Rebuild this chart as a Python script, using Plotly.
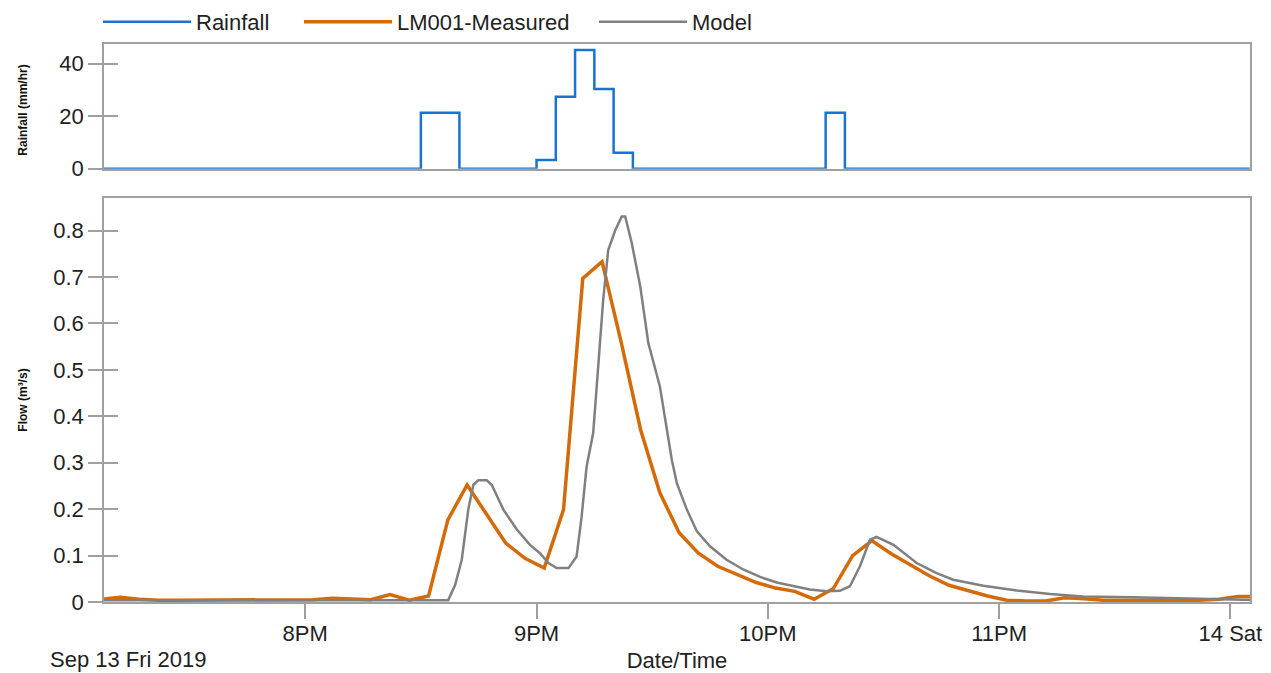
import pandas as pd
import plotly.graph_objects as go

# ---------------- data ----------------
# Rainfall (mm/hr), 5-minute intervals starting 2019-09-13 19:05
rain_start = "2019-09-13 19:05"
rain_values = [
    0, 0, 0, 0, 0, 0, 0, 0, 0, 0, 0, 0, 0, 0, 0, 0, 0,      # 19:05 - 20:25
    21.3, 21.3,                                              # 20:30 - 20:35
    0, 0, 0, 0,                                              # 20:40 - 20:55
    3.3, 27.4, 45.2, 30.4, 6.1,                              # 21:00 - 21:20
    0, 0, 0, 0, 0, 0, 0, 0, 0, 0,                            # 21:25 - 22:10
    21.3,                                                    # 22:15
    0, 0, 0, 0, 0, 0, 0, 0, 0, 0, 0, 0, 0, 0, 0, 0, 0, 0, 0, 0, 0, 0,  # 22:20 - 00:05
]

# LM001-Measured flow (m3/s), 5-minute intervals starting 2019-09-13 19:07
meas_start = "2019-09-13 19:07"
meas_values = [
    0.006, 0.010, 0.006, 0.004, 0.004, 0.004, 0.005, 0.005, 0.005, 0.005,
    0.004, 0.005, 0.008, 0.006, 0.005, 0.016, 0.004, 0.013, 0.177, 0.252,
    0.190, 0.127, 0.094, 0.073, 0.199, 0.697, 0.733, 0.558, 0.371, 0.235,
    0.149, 0.105, 0.077, 0.059, 0.042, 0.030, 0.023, 0.006, 0.029, 0.100,
    0.132, 0.104, 0.079, 0.056, 0.036, 0.025, 0.013, 0.004, 0.002, 0.002,
    0.009, 0.007, 0.004, 0.004, 0.004, 0.004, 0.004, 0.004, 0.006, 0.012,
    0.012,
]

# Model flow (m3/s): minutes after 2019-09-13 19:00 and values
model_base = "2019-09-13 19:00"
model_minutes = [
    0, 97.1, 98.9, 100.6, 102.3, 103.6, 104.9, 107.1, 108.4, 111.4,
    114.9, 118.3, 120.9, 123.1, 125.2, 128.3, 130.4, 131.7, 133.0, 134.7,
    136.0, 137.3, 138.6, 140.4, 142.1, 143.0, 144.7, 146.9, 149.0, 152.0,
    155.1, 156.4, 159.0, 161.6, 165.0, 169.3, 173.6, 178.0, 182.3, 186.6,
    190.9, 195.3, 198.7, 201.3, 203.9, 206.5, 208.2, 212.6, 218.6, 223.8,
    228.1, 235.9, 244.6, 253.2, 261.8, 274.8, 287.8, 303.3, 310.0,
]
model_values = [
    0.004, 0.004, 0.037, 0.091, 0.199, 0.252, 0.262, 0.262, 0.252, 0.199,
    0.156, 0.123, 0.105, 0.084, 0.073, 0.073, 0.098, 0.184, 0.292, 0.364,
    0.507, 0.651, 0.758, 0.800, 0.830, 0.830, 0.773, 0.680, 0.558, 0.464,
    0.306, 0.256, 0.199, 0.152, 0.120, 0.091, 0.070, 0.054, 0.042, 0.034,
    0.027, 0.023, 0.024, 0.034, 0.077, 0.134, 0.140, 0.123, 0.084, 0.062,
    0.048, 0.035, 0.025, 0.017, 0.012, 0.010, 0.007, 0.005, 0.005,
]

x_tick_vals = ["2019-09-13 20:00", "2019-09-13 21:00", "2019-09-13 22:00",
               "2019-09-13 23:00", "2019-09-14 00:00"]
x_tick_text = ["8PM", "9PM", "10PM", "11PM", "14 Sat"]
x_range = ["2019-09-13 19:07:48", "2019-09-14 00:05:05"]

rain_ticks = [0, 20, 40]
flow_ticks = [0, 0.1, 0.2, 0.3, 0.4, 0.5, 0.6, 0.7, 0.8]
rain_range = [0, 47.5]
flow_range = [0, 0.87]

# ---------------- build ----------------
rain_t = pd.date_range(rain_start, periods=len(rain_values), freq="5min")
meas_t = pd.date_range(meas_start, periods=len(meas_values), freq="5min")
model_t = pd.Timestamp(model_base) + pd.to_timedelta(model_minutes, unit="min")

FONT = "Liberation Sans, Arial, sans-serif"
FS = 22
TXT = "#222222"
FRAME = "#a0a0a0"
BLUE = "#1a73d1"
ORANGE = "#d46b08"
GREY = "#808080"

W, H = 1271, 673
L, R, T, B = 104, 21, 44, 71
plot_w = W - L - R
plot_h = H - T - B

fig = go.Figure()
fig.add_trace(go.Scatter(x=rain_t, y=rain_values, name="Rainfall", mode="lines",
                         line=dict(color=BLUE, width=2.5, shape="hv"),
                         xaxis="x2", yaxis="y2", legend="legend"))
fig.add_trace(go.Scatter(x=meas_t, y=meas_values, name="LM001-Measured", mode="lines",
                         line=dict(color=ORANGE, width=3.5),
                         xaxis="x", yaxis="y", legend="legend2"))
fig.add_trace(go.Scatter(x=model_t, y=model_values, name="Model", mode="lines",
                         line=dict(color=GREY, width=2.5),
                         xaxis="x", yaxis="y", legend="legend3"))
# empty traces so the overlay axes (inner half of the crossing y ticks) render
fig.add_trace(go.Scatter(x=[], y=[], xaxis="x", yaxis="y3", showlegend=False,
                         hoverinfo="skip"))
fig.add_trace(go.Scatter(x=[], y=[], xaxis="x2", yaxis="y4", showlegend=False,
                         hoverinfo="skip"))

bottom_dom = [0, (602.3 - 198.3) / plot_h]
top_dom = [(602.3 - 169) / plot_h, 1]

axis_common = dict(showline=True, linecolor=FRAME, linewidth=1.5, mirror=True,
                   showgrid=False, zeroline=False, automargin=False,
                   tickfont=dict(family=FONT, size=FS, color=TXT))


def leg(px):
    return dict(orientation="h", xref="paper", x=(px - L) / plot_w, xanchor="left",
                yref="container", y=1 - 22 / H, yanchor="middle",
                font=dict(family=FONT, size=FS, color=TXT),
                itemwidth=88, bgcolor="rgba(0,0,0,0)")


fig.update_layout(
    width=W, height=H,
    margin=dict(l=L, r=R, t=T, b=B, autoexpand=False),
    paper_bgcolor="white", plot_bgcolor="white",
    font=dict(family=FONT, size=FS, color=TXT),
    showlegend=True,
    legend=leg(98), legend2=leg(299), legend3=leg(594),
    xaxis=dict(**axis_common, domain=[0, 1], anchor="y", type="date",
               range=x_range, tickvals=x_tick_vals, ticktext=x_tick_text,
               ticks="outside", ticklen=15, tickcolor=FRAME, tickwidth=1.5,
               ticklabelstandoff=-4,
               title=dict(text="Date/Time", standoff=8,
                          font=dict(family=FONT, size=FS, color=TXT))),
    xaxis2=dict(**axis_common, domain=[0, 1], anchor="y2", type="date",
                matches="x", range=x_range, showticklabels=False, ticks=""),
    yaxis=dict(**axis_common, domain=bottom_dom, anchor="x", range=flow_range,
               tickvals=flow_ticks, ticks="outside", ticklen=14,
               tickcolor=FRAME, tickwidth=1.5),
    yaxis2=dict(**axis_common, domain=top_dom, anchor="x2", range=rain_range,
                tickvals=rain_ticks, ticks="outside", ticklen=14,
                tickcolor=FRAME, tickwidth=1.5),
    yaxis3=dict(overlaying="y", anchor="x", side="left", range=flow_range,
                tickvals=flow_ticks, ticks="inside", ticklen=14,
                tickcolor=FRAME, tickwidth=1.5, showticklabels=False,
                showgrid=False, zeroline=False, showline=False, automargin=False),
    yaxis4=dict(overlaying="y2", anchor="x2", side="left", range=rain_range,
                tickvals=rain_ticks, ticks="inside", ticklen=14,
                tickcolor=FRAME, tickwidth=1.5, showticklabels=False,
                showgrid=False, zeroline=False, showline=False, automargin=False),
    annotations=[
        dict(text="Rainfall (mm/hr)", textangle=-90, xref="paper", yref="paper",
             x=(23 - L) / plot_w, y=(602.3 - 111) / plot_h, xanchor="center",
             yanchor="middle", showarrow=False,
             font=dict(family=FONT, size=12, color="#111111", weight="bold")),
        dict(text="Flow (m³/s)", textangle=-90, xref="paper", yref="paper",
             x=(23 - L) / plot_w, y=(602.3 - 401) / plot_h, xanchor="center",
             yanchor="middle", showarrow=False,
             font=dict(family=FONT, size=12, color="#111111", weight="bold")),
        dict(text="Sep 13 Fri 2019", xref="paper", yref="paper",
             x=(48 - L) / plot_w, y=-(660 - 602.3) / plot_h, xanchor="left",
             yanchor="middle", showarrow=False,
             font=dict(family=FONT, size=FS, color=TXT)),
    ],
)

fig.write_html("out.html")
